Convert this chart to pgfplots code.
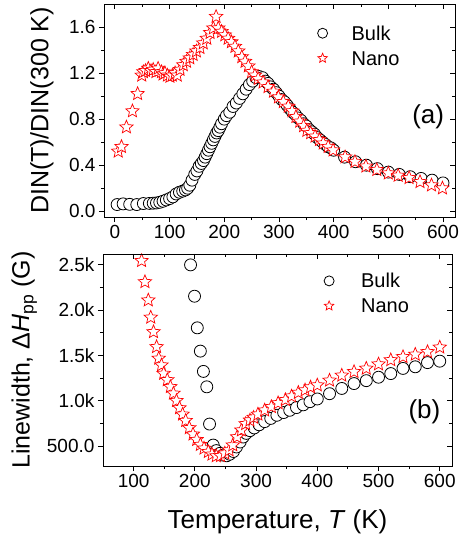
\documentclass[border=0pt]{standalone}
\usepackage{fontspec}
\setmainfont{Liberation Sans}
\usepackage{pgfplots}
\pgfplotsset{compat=1.18}

% hollow five-pointed star, as in the Origin plot
\pgfdeclareplotmark{ostar}{%
  \pgfpathmoveto{\pgfpointpolar{90}{\pgfplotmarksize}}%
  \pgfpathlineto{\pgfpointpolar{126}{0.45\pgfplotmarksize}}%
  \pgfpathlineto{\pgfpointpolar{162}{\pgfplotmarksize}}%
  \pgfpathlineto{\pgfpointpolar{198}{0.45\pgfplotmarksize}}%
  \pgfpathlineto{\pgfpointpolar{234}{\pgfplotmarksize}}%
  \pgfpathlineto{\pgfpointpolar{270}{0.45\pgfplotmarksize}}%
  \pgfpathlineto{\pgfpointpolar{306}{\pgfplotmarksize}}%
  \pgfpathlineto{\pgfpointpolar{342}{0.45\pgfplotmarksize}}%
  \pgfpathlineto{\pgfpointpolar{18}{\pgfplotmarksize}}%
  \pgfpathlineto{\pgfpointpolar{54}{0.45\pgfplotmarksize}}%
  \pgfpathclose
  \pgfusepathqfillstroke
}

\pgfplotsset{
  panel/.style={
    scale only axis,
    axis line style={line width=0.9pt},
    every tick/.style={line width=0.9pt, black},
    major tick length=5pt, minor tick length=3pt,
    minor x tick num=1, minor y tick num=1,
    tick label style={font=\fontsize{19}{22}\selectfont},
    /pgf/number format/assume math mode=true,
  },
  outer/.style={panel, tick align=outside, xtick pos=left, ytick pos=left},
  inner/.style={panel, tick align=inside, xtick pos=right, ytick pos=right,
    xticklabels={}, yticklabels={}},
  bulk/.style={only marks, mark=*, mark size=6pt,
    mark options={draw=black, fill=white, line width=0.8pt}},
  nano/.style={only marks, mark=ostar, mark size=7pt, red,
    mark options={draw=red, fill=white, line width=0.7pt}},
  leg/.style={legend cell align=left,
    legend style={draw=none, fill=none, inner sep=0pt,
      font=\fontsize{20}{22}\selectfont,
      nodes={inner sep=2pt, text height=14pt, text depth=0pt},
      row sep=7pt,
      /tikz/every odd column/.append style={column sep=#1}}},
}

\begin{document}
\begin{tikzpicture}
% ---------- (a) ----------
\begin{axis}[outer, leg=22pt,
  width=351pt, height=213pt,
  xmin=-20, xmax=622, ymin=-0.05, ymax=1.80,
  xtick={0,100,...,600},
  ytick={0,0.4,0.8,1.2,1.6},
  yticklabel style={/pgf/number format/.cd, fixed, fixed zerofill, precision=1},
  ylabel={DIN(T)/DIN(300 K)},
  ylabel style={at={(axis description cs:-0.177,0.5)}, anchor=center,
    font=\fontsize{25}{28}\selectfont},
  legend style={at={(axis description cs:0.608,0.906)}, anchor=north west},
  legend image post style={mark size=5pt},
]
\addplot[bulk] coordinates {
(4,0.058)(15,0.064)(27,0.06)(40,0.058)(52,0.067)(63,0.068)(70,0.07)(76,0.072)
(82,0.078)(88,0.087)(94,0.098)(100,0.11)(106,0.125)(112,0.15)(118,0.165)
(124,0.175)(129,0.185)(133,0.2)(137,0.226)(141,0.27)(146,0.32)(150,0.35)
(154,0.39)(158,0.415)(162,0.44)(165,0.47)(168,0.50)(171,0.53)(174,0.56)
(177,0.59)(180,0.62)(183,0.65)(186,0.68)(189,0.70)(192,0.73)(195,0.76)
(200,0.80)(204,0.83)(210,0.86)(216,0.91)(222,0.94)(228,0.98)(234,1.02)
(240,1.06)(246,1.10)(252,1.13)(258,1.16)(264,1.17)(270,1.16)(275,1.13)
(280,1.11)(285,1.08)(290,1.06)(295,1.03)(300,1.00)(305,0.97)(310,0.95)
(315,0.92)(320,0.89)(325,0.86)(330,0.84)(335,0.81)(340,0.79)(345,0.76)
(350,0.74)(355,0.71)(360,0.69)(365,0.67)(370,0.64)(375,0.62)(380,0.60)
(385,0.58)(390,0.56)(395,0.55)(400,0.53)(420,0.47)(440,0.43)(460,0.40)
(480,0.37)(500,0.34)(520,0.32)(540,0.30)(560,0.285)(580,0.27)(600,0.246)};
\addlegendentry{Bulk}
\addplot[nano] coordinates {
(6,0.52)(12,0.56)(21,0.73)(32,0.87)(41.5,1.02)(49,1.18)(52,1.21)(56,1.22)
(61,1.24)(66,1.22)(70,1.23)(75,1.21)(79,1.24)(85,1.21)(88,1.19)(91.5,1.20)
(96,1.18)(100.6,1.17)(105,1.18)(110,1.20)(114,1.18)(119,1.23)(125,1.27)
(131,1.30)(137,1.33)(143,1.36)(149,1.39)(155.5,1.42)(161.5,1.46)(168,1.50)
(174,1.55)(180,1.59)(185,1.69)(189,1.59)(195,1.56)(201,1.53)(207,1.50)
(213,1.47)(219.5,1.43)(225.6,1.39)(232,1.34)(238,1.30)(244,1.26)(250,1.21)
(256,1.18)(262,1.15)(271,1.12)(280,1.08)(290,1.04)(299,0.99)(308,0.95)
(317,0.91)(324,0.87)(331,0.82)(338,0.78)(345,0.74)(351,0.70)(358,0.68)
(366,0.65)(374,0.62)(381,0.59)(390,0.56)(399,0.53)(421,0.47)(439,0.43)
(459,0.39)(479,0.36)(500,0.33)(518,0.31)(538,0.29)(558,0.255)(579,0.226)
(599,0.20)};
\addlegendentry{Nano}
\node[font=\fontsize{26}{28}\selectfont] at (axis cs:573,0.82) {(a)};
\end{axis}
\begin{axis}[inner, width=351pt, height=213pt,
  xmin=-20, xmax=622, ymin=-0.05, ymax=1.80,
  xtick={0,100,...,600}, ytick={0,0.4,0.8,1.2,1.6}]
\end{axis}

% ---------- (b) ----------
\begin{axis}[outer, leg=25pt, at={(-1pt,-249pt)},
  width=349pt, height=212pt,
  xmin=50, xmax=620, ymin=280, ymax=2620,
  xtick={100,200,...,600},
  ytick={500,1000,1500,2000,2500},
  yticklabels={500.0,1.0k,1.5k,2.0k,2.5k},
  xlabel={Temperature, \textit{T} (K)},
  xlabel style={at={(axis description cs:0.5,-0.2925)}, anchor=base,
    font=\fontsize{26}{28}\selectfont},
  ylabel={Linewidth, Δ\textit{H}\textsubscript{pp} (G)},
  ylabel style={at={(axis description cs:-0.2257,0.5)}, anchor=center,
    font=\fontsize{25}{28}\selectfont},
  legend style={at={(axis description cs:0.633,0.9165)}, anchor=north west},
  legend image post style={mark size=5pt},
]
\addplot[bulk] coordinates {
(193,2500)(199.5,2154)(204,1805)(209,1548)(214,1324)(219.5,1154)(224,743)
(230,511)(235,450)(241,420)(246,400)(252,393)(257,410)(263,440)(268,490)
(274,545)(279,600)(284,640)(290,670)(297,700)(305,735)(314,770)(324,805)
(334,840)(345,870)(355,895)(366,925)(377,955)(388,990)(400,1020)(420,1078)
(440,1136)(460,1190)(480,1222)(500,1260)(520,1300)(540,1357)(560,1375)
(580,1421)(600,1437)};
\addlegendentry{Bulk}
\addplot[nano] coordinates {
(113,2545)(118.5,2312)(124,2110)(128,1920)(132.5,1760)(137.5,1595)(141,1467)
(145.5,1393)(149,1300)(155,1230)(160,1154)(165,1081)(170,1000)(175,920)
(180,850)(185,780)(191,700)(197,630)(203,570)(209,515)(215,475)(222,437)
(228,408)(235,390)(242,392)(249,420)(256,455)(262,510)(269,600)(276,675)
(283,745)(290,785)(296,815)(303,850)(314,895)(325,933)(336,975)(348,1010)
(358,1050)(369,1090)(380,1117)(389,1150)(400,1172)(420,1225)(440,1280)
(460,1320)(480,1357)(500,1404)(520,1450)(540,1485)(560,1511)(580,1540)
(600,1590)};
\addlegendentry{Nano}
\node[font=\fontsize{26}{28}\selectfont] at (axis cs:575,878) {(b)};
\end{axis}
\begin{axis}[inner, at={(-1pt,-249pt)}, width=349pt, height=212pt,
  xmin=50, xmax=620, ymin=280, ymax=2620,
  xtick={100,200,...,600}, ytick={500,1000,1500,2000,2500}]
\end{axis}

\pgfresetboundingbox
\path[use as bounding box] (-104pt,217pt) rectangle (354pt,-321pt);
\end{tikzpicture}
\end{document}
